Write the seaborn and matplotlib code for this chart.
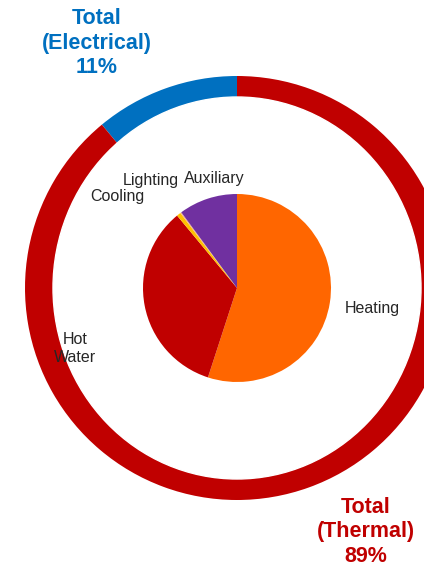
import matplotlib
matplotlib.use("Agg")
import matplotlib.pyplot as plt
import seaborn as sns
from matplotlib.patches import Ellipse

# outer ring: share of total energy by type
ring_labels = ["Total\n(Electrical)\n11%", "Total\n(Thermal)\n89%"]
ring_values = [11, 89]
ring_colors = ["#0070C0", "#C00000"]

# inner pie: end uses, clockwise from the top
uses = ["Heating", "Hot\nWater", "Cooling", "Lighting", "Auxiliary"]
use_values = [55.0, 34.0, 0.7, 0.2, 10.1]
use_colors = ["#FF6600", "#C00000", "#FFC000", "#F4B183", "#7030A0"]

sns.set_theme(style="white")
plt.rcParams['font.family'] = ['Liberation Sans', 'DejaVu Sans']

W, H = 424, 566
fig = plt.figure(figsize=(W / 100, H / 100), dpi=100)
ax = fig.add_axes([0, 0, 1, 1])

cx, cy = 237, H - 288

# outer ring (full wedges, then white centre)
ax.pie(ring_values, colors=ring_colors, radius=212, center=(cx, cy),
       startangle=90, counterclock=True, frame=True,
       wedgeprops=dict(linewidth=0))
ax.add_patch(Ellipse((cx, cy), 368, 382, color="white", zorder=3))

# inner pie
wedges, _ = ax.pie(use_values, colors=use_colors, radius=94, center=(cx, cy),
                   startangle=90, counterclock=False, frame=True,
                   wedgeprops=dict(linewidth=0))
for w in wedges:
    w.set_zorder(4)

ax.set_xlim(0, W)
ax.set_ylim(0, H)
ax.axis("off")

# end-use labels
label_pos = {"Heating": (372, 308), "Hot\nWater": (75, 349), "Cooling": (117, 196),
             "Lighting": (151, 181), "Auxiliary": (214, 178)}
for name in uses:
    x, y = label_pos[name]
    ax.text(x, H - y, name, ha="center", va="center", fontsize=11.5,
            color="#262626", zorder=5, linespacing=1.25)

# ring labels
ring_pos = [(97, 43), (366, 532)]
for txt, col, (x, y) in zip(ring_labels, ring_colors, ring_pos):
    ax.text(x, H - y, txt, ha="center", va="center", fontsize=15.5,
            fontweight="bold", color=col, zorder=5, linespacing=1.2)

fig.savefig("out.png", dpi=100)
